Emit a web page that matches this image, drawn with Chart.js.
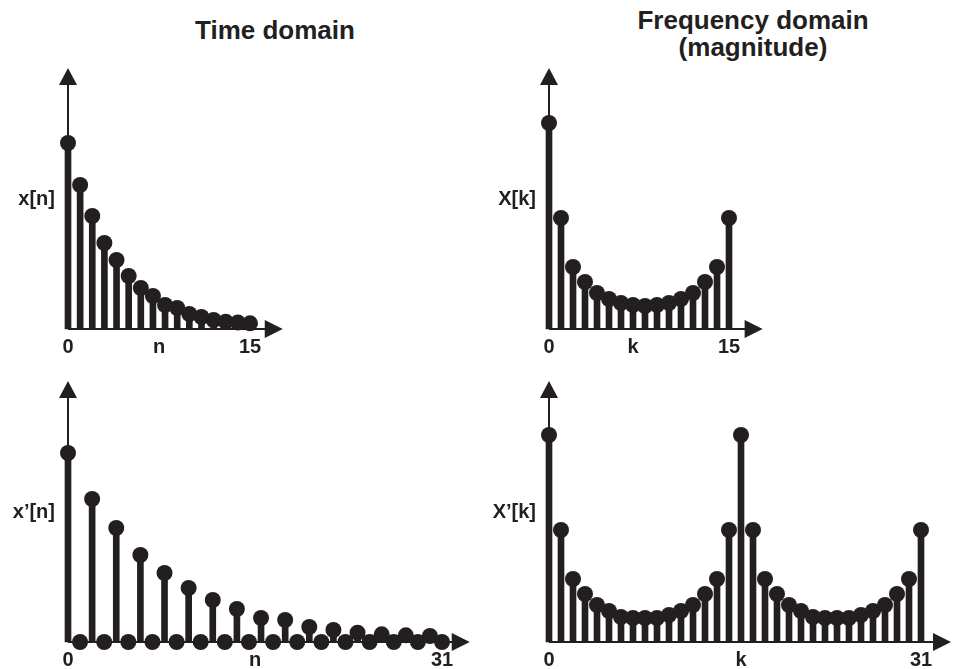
<!DOCTYPE html>
<html>
<head>
<meta charset="utf-8">
<script src="https://cdn.jsdelivr.net/npm/chart.js@4.4.0/dist/chart.umd.min.js"></script>
<style>
  body { margin: 0; background: #fff; }
  #wrap { position: relative; width: 954px; height: 669px; overflow: hidden; }
  canvas { position: absolute; left: 0; top: 0; }
  .title {
    position: absolute; font-family: "Liberation Sans", Arial, sans-serif;
    font-weight: bold; font-size: 26px; color: #231f20; text-align: center;
    line-height: 27px; white-space: nowrap;
  }
</style>
</head>
<body>
<div id="wrap">
  <div class="title" style="left:175px; width:200px; top:17px;">Time domain</div>
  <div class="title" style="left:633px; width:240px; top:7px;">Frequency domain<br>(magnitude)</div>
  <canvas id="tl" width="954" height="669"></canvas>
  <canvas id="tr" width="954" height="669"></canvas>
  <canvas id="bl" width="954" height="669"></canvas>
  <canvas id="br" width="954" height="669"></canvas>
</div>
<script>
// sample index
const n16 = [0, 1, 2, 3, 4, 5, 6, 7, 8, 9, 10, 11, 12, 13, 14, 15];
const n32 = [0, 1, 2, 3, 4, 5, 6, 7, 8, 9, 10, 11, 12, 13, 14, 15,
             16, 17, 18, 19, 20, 21, 22, 23, 24, 25, 26, 27, 28, 29, 30, 31];

// x[n] : decaying sequence
const xn = [186, 144, 113, 86, 69, 53, 41, 33, 24, 21, 15, 12, 9, 7.3, 6.5, 5.7];
// |X[k]|
const Xk = [206, 111, 62, 47, 36, 30, 26, 24, 23, 24, 26, 30, 36, 47, 62, 111];
// x'[n] : zero stuffed
const xpn = [189, 0, 143, 0, 114, 0, 87, 0, 69, 0, 54, 0, 42, 0, 33, 0,
             24, 0, 22, 0, 15, 0, 12, 0, 9.3, 0, 7.7, 0, 6.7, 0, 6, 0];
// |X'[k]|
const Xpk = [207, 112, 63, 48, 37, 31, 25, 24, 24, 24, 27, 31, 37, 48, 63, 112,
             207, 112, 63, 48, 37, 31, 25, 24, 24, 24, 27, 31, 37, 48, 63, 112];

const ink = "#231f20";
const labelFont = "bold 20px 'Liberation Sans', Arial, sans-serif";

const axesPlugin = {
  id: "stemAxes",
  beforeDatasetsDraw(chart, args, opts) {
    const ctx = chart.ctx;
    const xs = chart.scales.x, ys = chart.scales.y;
    const x0 = xs.getPixelForValue(0), y0 = ys.getPixelForValue(0);
    const xTip = xs.getPixelForValue(opts.xEnd);
    const yTip = ys.getPixelForValue(opts.yEnd);
    ctx.save();
    ctx.strokeStyle = ink;
    ctx.fillStyle = ink;
    ctx.lineWidth = 2;
    ctx.beginPath();
    ctx.moveTo(x0, y0);
    ctx.lineTo(xTip - 10, y0);
    ctx.moveTo(x0, y0);
    ctx.lineTo(x0, yTip + 10);
    ctx.stroke();
    // arrow heads
    ctx.beginPath();
    ctx.moveTo(xTip, y0);
    ctx.lineTo(xTip - 18, y0 - 9);
    ctx.lineTo(xTip - 18, y0 + 9);
    ctx.closePath();
    ctx.fill();
    ctx.beginPath();
    ctx.moveTo(x0, yTip);
    ctx.lineTo(x0 - 9, yTip + 17);
    ctx.lineTo(x0 + 9, yTip + 17);
    ctx.closePath();
    ctx.fill();
    ctx.restore();
  },
  afterDraw(chart, args, opts) {
    const ctx = chart.ctx;
    const xs = chart.scales.x, ys = chart.scales.y;
    const y0 = ys.getPixelForValue(0);
    ctx.save();
    ctx.fillStyle = ink;
    ctx.font = labelFont;
    ctx.textBaseline = "middle";
    ctx.textAlign = "center";
    opts.ticks.forEach((t) => {
      ctx.fillText(t[1], xs.getPixelForValue(t[0]), y0 + 18);
    });
    ctx.textAlign = "right";
    ctx.fillText(opts.yLabel, xs.getPixelForValue(0) - 13, ys.getPixelForValue(130));
    ctx.restore();
  }
};

function stemChart(id, idx, vals, pad, xMax, xEnd, ticks, yLabel) {
  const pts = idx.map((n, i) => ({ x: n, y: vals[i] }));
  return new Chart(document.getElementById(id), {
    type: "bar",
    data: {
      datasets: [
        {
          type: "bar",
          data: pts,
          backgroundColor: ink,
          barThickness: 6,
          clip: false,
          order: 2,
        },
        {
          type: "scatter",
          data: pts,
          pointRadius: 8,
          pointBackgroundColor: ink,
          pointBorderWidth: 0,
          clip: false,
          order: 1,
        },
      ],
    },
    options: {
      responsive: false,
      animation: false,
      devicePixelRatio: 1,
      layout: { padding: pad },
      plugins: {
        legend: { display: false },
        tooltip: { enabled: false },
        stemAxes: { xEnd: xEnd, yEnd: 261, ticks: ticks, yLabel: yLabel },
      },
      scales: {
        x: { type: "linear", min: 0, max: xMax, offset: false, display: false },
        y: { min: 0, max: 260, display: false },
      },
    },
    plugins: [axesPlugin],
  });
}

stemChart("tl", n16, xn, { left: 68, right: 704, top: 69, bottom: 340 }, 15, 17.7,
  [[0, "0"], [7.5, "n"], [15, "15"]], "x[n]");
stemChart("tr", n16, Xk, { left: 549, right: 225, top: 69, bottom: 340 }, 15, 17.8,
  [[0, "0"], [7, "k"], [15, "15"]], "X[k]");
stemChart("bl", n32, xpn, { left: 68, right: 512, top: 382, bottom: 27 }, 31, 33.3,
  [[0, "0"], [15.5, "n"], [31, "31"]], "x\u2019[n]");
stemChart("br", n32, Xpk, { left: 549, right: 33, top: 382, bottom: 27 }, 31, 33.5,
  [[0, "0"], [16, "k"], [31, "31"]], "X\u2019[k]");
</script>
</body>
</html>
